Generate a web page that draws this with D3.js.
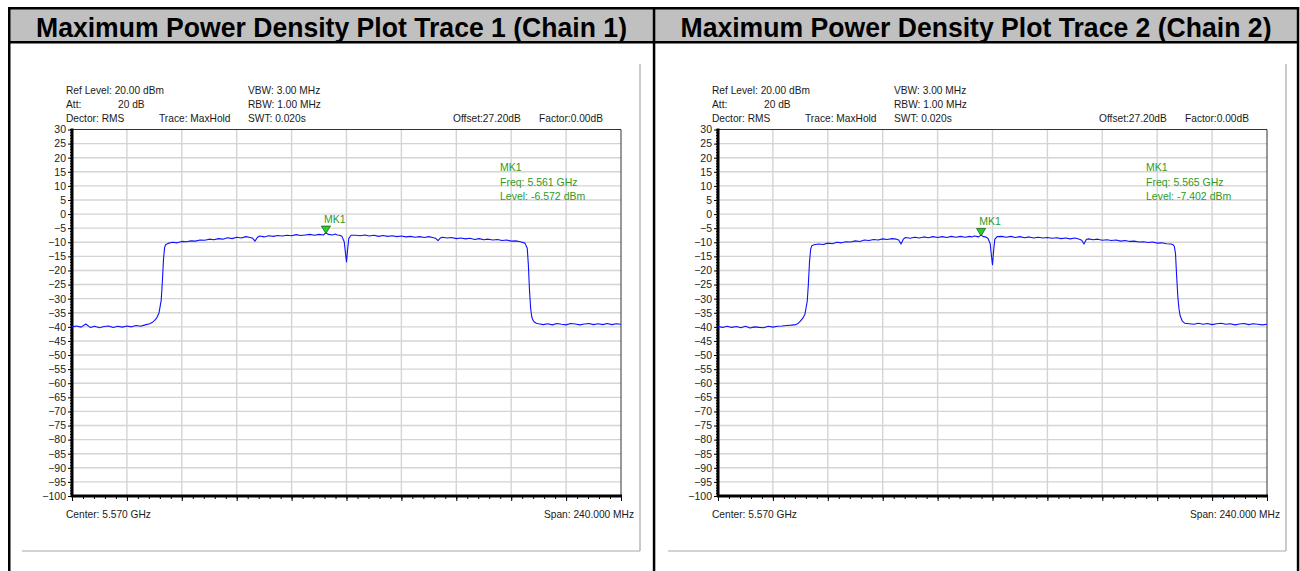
<!DOCTYPE html>
<html>
<head>
<meta charset="utf-8">
<script src="https://cdn.jsdelivr.net/npm/d3@7"></script>
<style>
  html, body { margin: 0; padding: 0; background: #fff; }
  svg { display: block; }
</style>
</head>
<body>
<div id="chart"></div>
<script>
// --- Data ---
const titles = [
  "Maximum Power Density Plot Trace 1 (Chain 1)",
  "Maximum Power Density Plot Trace 2 (Chain 2)"
];

const yTickValues = [30, 25, 20, 15, 10, 5, 0, -5, -10, -15, -20, -25, -30, -35, -40, -45,
  -50, -55, -60, -65, -70, -75, -80, -85, -90, -95, -100];
const xDivisions = [5450, 5474, 5498, 5522, 5546, 5570, 5594, 5618, 5642, 5666, 5690]; // MHz

// frequency samples (MHz)
const freqMHz = [
  5450, 5452, 5454, 5456, 5458, 5460, 5462, 5464, 5466, 5468, 5470, 5472, 5474, 5476, 5478, 5480, 5482, 5484,
  5485, 5486, 5487, 5488, 5489, 5489.5, 5490, 5490.5, 5491,
  5492, 5494, 5496, 5498, 5500, 5502, 5504, 5506, 5508, 5510, 5512, 5514, 5516, 5518, 5520, 5522, 5524, 5526, 5528,
  5529, 5530, 5531,
  5532, 5534, 5536, 5538, 5540, 5542, 5544, 5546, 5548, 5550, 5552, 5554, 5556, 5558, 5560, 5561, 5562, 5564, 5565, 5566,
  5567, 5568, 5569, 5569.5, 5570, 5570.5, 5571, 5572,
  5574, 5576, 5578, 5580, 5582, 5584, 5586, 5588, 5590, 5592, 5594, 5596, 5598, 5600, 5602, 5604, 5606, 5608,
  5609, 5610, 5611,
  5612, 5614, 5616, 5618, 5620, 5622, 5624, 5626, 5628, 5630, 5632, 5634, 5636, 5638, 5640, 5642, 5644, 5646, 5648,
  5649, 5649.5, 5650, 5650.5, 5651, 5651.5, 5652, 5653,
  5654, 5656, 5658, 5660, 5662, 5664, 5666, 5668, 5670, 5672, 5674, 5676, 5678, 5680, 5682, 5684, 5686, 5688, 5690
];

// trace levels (dBm)
const trace1Level = [
  -40.0, -39.7, -40.1, -39.0, -40.2, -39.8, -40.3, -39.9, -39.7, -40.2, -39.8, -40.1, -39.7, -40.0, -39.5, -39.8, -39.3, -38.9,
  -38.5, -37.8, -36.9, -35.2, -30.5, -24.0, -16.0, -11.8, -10.8,
  -10.4, -10.0, -10.2, -9.7, -9.8, -9.5, -9.6, -9.2, -9.3, -8.9, -9.1, -8.7, -8.9, -8.4, -8.7, -8.2, -8.5, -8.0, -8.3,
  -8.6, -9.6, -8.3,
  -7.8, -8.1, -7.7, -7.9, -7.6, -7.8, -7.5, -7.7, -7.3, -7.6, -7.4, -7.2, -7.5, -7.2, -7.4, -6.6, -7.2, -7.4, -7.1, -7.4,
  -7.5, -7.9, -9.8, -13.5, -17.0, -12.5, -8.6, -7.5,
  -7.5, -7.7, -7.4, -7.8, -7.5, -7.9, -7.6, -7.9, -7.7, -8.0, -7.8, -8.1, -7.9, -8.2, -8.0, -8.3, -8.0, -8.4,
  -8.6, -9.4, -8.5,
  -8.2, -8.5, -8.3, -8.7, -8.5, -8.8, -8.6, -9.0, -8.7, -9.1, -8.9, -9.2, -9.0, -9.4, -9.2, -9.6, -9.5, -9.8, -10.3,
  -12.0, -18.0, -27.0, -33.5, -36.5, -37.6, -38.2, -38.7,
  -38.9, -39.2, -38.9, -39.3, -38.8, -39.1, -39.3, -38.8, -39.0, -39.3, -39.0, -38.8, -39.2, -38.9, -39.2, -38.8, -39.2, -38.9, -39.1
];

const trace2Level = [
  -39.9, -40.2, -39.8, -40.2, -39.9, -40.3, -39.8, -40.4, -40.0, -40.2, -40.3, -39.8, -40.1, -39.8, -39.7, -39.5, -39.4, -39.2,
  -38.8, -38.0, -37.0, -35.5, -31.0, -25.0, -17.0, -12.5, -11.2,
  -10.9, -10.6, -10.8, -10.3, -10.5, -10.0, -10.2, -9.8, -9.9, -9.5, -9.7, -9.2, -9.4, -9.0, -9.2, -8.8, -9.0, -8.7, -8.9,
  -9.2, -10.6, -8.9,
  -8.3, -8.6, -8.2, -8.5, -8.1, -8.4, -8.0, -8.3, -8.0, -8.3, -7.9, -8.2, -7.9, -8.2, -7.9, -8.1, -7.8, -8.1, -7.4, -8.0,
  -8.1, -8.6, -10.5, -14.5, -18.0, -13.0, -9.0, -8.0,
  -7.9, -8.2, -7.9, -8.3, -8.0, -8.4, -8.1, -8.5, -8.2, -8.5, -8.3, -8.6, -8.4, -8.7, -8.5, -8.8, -8.5, -8.9,
  -9.3, -10.6, -9.0,
  -8.8, -9.1, -8.9, -9.3, -9.1, -9.4, -9.2, -9.6, -9.4, -9.7, -9.6, -9.9, -9.8, -10.1, -9.9, -10.3, -10.2, -10.5, -10.6,
  -10.9, -11.5, -14.0, -22.0, -29.0, -33.5, -36.0, -38.0,
  -38.7, -38.9, -39.1, -38.7, -39.1, -38.8, -39.2, -38.9, -38.7, -39.1, -38.9, -39.3, -39.0, -38.8, -39.2, -38.9, -39.1, -39.3, -39.1
];

const markerFreqMHz = [5561, 5565];
const markerLevel = [-6.572, -7.402];
const markerFreqText = ["5.561 GHz", "5.565 GHz"];
const markerLevelText = ["-6.572 dBm", "-7.402 dBm"];

const traces = [trace1Level, trace2Level];

// --- Layout ---
const W = 1300, H = 571;
const panelShift = 646;
const textFont = "'Liberation Sans', Arial, sans-serif";

const svg = d3.select("#chart").append("svg")
  .attr("width", W)
  .attr("height", H)
  .attr("viewBox", `0 0 ${W} ${H}`);

// table header + borders
svg.append("rect")
  .attr("x", 10).attr("y", 9)
  .attr("width", 1287).attr("height", 32)
  .attr("fill", "#c0c0c0");

const black = (x, y, w, h) => svg.append("rect")
  .attr("x", x).attr("y", y).attr("width", w).attr("height", h).attr("fill", "#000");
black(8, 7, 1291, 2.5);      // top
black(8, 41, 1291, 2.5);     // under header
black(8, 7, 2.5, H);         // left
black(652.8, 7, 2.5, H);     // middle
black(1296.8, 7, 2.5, H);    // right

const titleCenters = [331.5, 976];
titles.forEach((t, i) => {
  svg.append("text")
    .attr("x", titleCenters[i])
    .attr("y", 37)
    .attr("text-anchor", "middle")
    .attr("textLength", 591)
    .attr("lengthAdjust", "spacingAndGlyphs")
    .style("font-family", "'Liberation Sans Narrow', 'Arial Narrow', 'Liberation Sans', Arial, sans-serif")
    .style("font-weight", "bold")
    .style("font-size", "27px")
    .attr("fill", "#000")
    .text(t);
});

// shared scales (panel-local coordinates)
const x = d3.scaleLinear().domain([5450, 5690]).range([72, 621]);
const y = d3.scaleLinear().domain([-100, 30]).range([496, 129.5]);

function drawPanel(i) {
  const g = svg.append("g").attr("transform", `translate(${i * panelShift},0)`);

  // picture frame (shadow lines)
  g.append("line")
    .attr("x1", 640).attr("x2", 640).attr("y1", 64).attr("y2", 551)
    .attr("stroke", "#a8a8a8").attr("stroke-width", 1.2);
  g.append("line")
    .attr("x1", 22).attr("x2", 640).attr("y1", 551).attr("y2", 551)
    .attr("stroke", "#a8a8a8").attr("stroke-width", 1.2);

  // header info
  const info = [
    ["Ref Level: 20.00 dBm", 66, 94],
    ["Att:", 66, 108],
    ["20 dB", 118, 108],
    ["Dector: RMS", 66, 122],
    ["Trace: MaxHold", 159, 122],
    ["VBW: 3.00 MHz", 248, 94],
    ["RBW: 1.00 MHz", 248, 108],
    ["SWT: 0.020s", 248, 122],
    ["Offset:27.20dB", 453, 122],
    ["Factor:0.00dB", 539, 122]
  ];
  g.selectAll("text.info").data(info).join("text")
    .attr("class", "info")
    .attr("x", d => d[1])
    .attr("y", d => d[2])
    .style("font-family", textFont)
    .style("font-size", "10.2px")
    .attr("fill", "#1a1a1a")
    .text(d => d[0]);

  // grid
  g.append("g").selectAll("line").data(xDivisions.slice(1, -1)).join("line")
    .attr("x1", d => x(d)).attr("x2", d => x(d))
    .attr("y1", y(30)).attr("y2", y(-100))
    .attr("stroke", "#d4d4d4").attr("stroke-width", 1.4);
  g.append("g").selectAll("line").data(yTickValues.slice(1, -1)).join("line")
    .attr("x1", x(5450)).attr("x2", x(5690))
    .attr("y1", d => y(d)).attr("y2", d => y(d))
    .attr("stroke", "#d4d4d4").attr("stroke-width", 1.4);

  // top/right plot borders
  g.append("path")
    .attr("d", `M${x(5450)},${y(30)}H${x(5690)}V${y(-100)}`)
    .attr("fill", "none").attr("stroke", "#333").attr("stroke-width", 1);

  // y axis
  const yAxis = g.append("g")
    .attr("transform", `translate(${x(5450)},0)`)
    .call(d3.axisLeft(y).tickValues(yTickValues).tickSize(4).tickPadding(2).tickFormat(d3.format("d")));
  yAxis.select(".domain").remove();
  yAxis.selectAll("text")
    .style("font-family", textFont)
    .style("font-size", "10.5px")
    .attr("fill", "#222");
  const yMinor = g.append("g")
    .attr("transform", `translate(${x(5450)},0)`)
    .call(d3.axisLeft(y).tickValues(d3.range(-100, 31, 1)).tickSize(2).tickFormat(""));
  yMinor.select(".domain").remove();

  // x axis ticks
  const xAxis = g.append("g")
    .attr("transform", `translate(0,${y(-100)})`)
    .call(d3.axisBottom(x).tickValues(xDivisions).tickSize(5).tickFormat(""));
  xAxis.select(".domain").remove();
  const xMinor = g.append("g")
    .attr("transform", `translate(0,${y(-100)})`)
    .call(d3.axisBottom(x).tickValues(d3.range(5450, 5691, 4.8)).tickSize(3).tickFormat(""));
  xMinor.select(".domain").remove();

  // thick axis lines
  g.append("line")
    .attr("x1", x(5450)).attr("x2", x(5450))
    .attr("y1", y(30) - 1).attr("y2", y(-100) + 1)
    .attr("stroke", "#000").attr("stroke-width", 3);
  g.append("line")
    .attr("x1", x(5450) - 1).attr("x2", x(5690) + 1)
    .attr("y1", y(-100)).attr("y2", y(-100))
    .attr("stroke", "#000").attr("stroke-width", 3);

  // trace
  const pts = freqMHz.map((f, k) => [f, traces[i][k]]);
  g.append("path")
    .datum(pts)
    .attr("fill", "none")
    .attr("stroke", "#1010ff")
    .attr("stroke-width", 1.1)
    .attr("stroke-linejoin", "round")
    .attr("d", d3.line().x(d => x(d[0])).y(d => y(d[1])));

  // marker
  const mx = x(markerFreqMHz[i]);
  const my = y(markerLevel[i]);
  g.append("path")
    .attr("d", `M${mx - 4.5},${my - 6.5}L${mx + 4.5},${my - 6.5}L${mx},${my + 1}Z`)
    .attr("fill", "#22d22a")
    .attr("stroke", "#1a5a1a")
    .attr("stroke-width", 0.8);

  const green = "#2f9a1f";
  g.append("text")
    .attr("x", mx + 9)
    .attr("y", my - 10)
    .attr("text-anchor", "middle")
    .style("font-family", textFont)
    .style("font-size", "10.5px")
    .attr("fill", green)
    .text("MK1");

  const mkLines = ["MK1", `Freq: ${markerFreqText[i]}`, `Level: ${markerLevelText[i]}`];
  g.selectAll("text.mk").data(mkLines).join("text")
    .attr("class", "mk")
    .attr("x", 500)
    .attr("y", (d, k) => 171 + k * 14.5)
    .style("font-family", textFont)
    .style("font-size", "10.5px")
    .attr("fill", green)
    .text(d => d);

  // footer
  g.append("text")
    .attr("x", 66).attr("y", 518)
    .style("font-family", textFont)
    .style("font-size", "10.2px")
    .attr("fill", "#1a1a1a")
    .text("Center: 5.570 GHz");
  g.append("text")
    .attr("x", 634).attr("y", 518)
    .attr("text-anchor", "end")
    .style("font-family", textFont)
    .style("font-size", "10.2px")
    .attr("fill", "#1a1a1a")
    .text("Span: 240.000 MHz");
}

drawPanel(0);
drawPanel(1);
</script>
</body>
</html>
